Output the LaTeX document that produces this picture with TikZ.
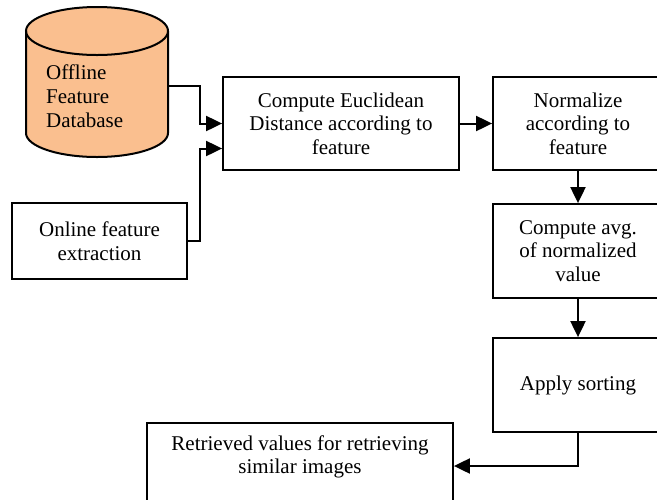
\documentclass[tikz,border=0pt]{standalone}
\usepackage{fontspec}
\setmainfont{Liberation Serif}
\usetikzlibrary{arrows.meta,calc}
\definecolor{dbfill}{HTML}{FABF8F}
\tikzset{
  every node/.style={font=\fontsize{21}{23.5}\selectfont},
  box/.style={draw=black, line width=1.8pt, rectangle, align=center, inner sep=2pt},
  conn/.style={draw=black, line width=2pt},
  arr/.style={draw=black, line width=2pt, -{Triangle[length=16pt,width=15pt]}},
}
\begin{document}
\begin{tikzpicture}[x=1pt,y=-1pt]
\useasboundingbox (0,0) rectangle (657,499);
\clip (0,0) rectangle (657,499);
% cylinder
\fill[dbfill] (26,31) rectangle (168,133);
\fill[dbfill] (97,133) ellipse[x radius=71, y radius=24];
\fill[dbfill] (97,31) ellipse[x radius=71, y radius=24];
\draw[conn] (97,31) ellipse[x radius=71, y radius=24];
\draw[conn] (26,31) -- (26,133) arc[start angle=180, end angle=0, x radius=71, y radius=24] -- (168,31);
\node[anchor=west, align=left, inner sep=0pt, font=\fontsize{21}{24}\selectfont] (db) at (46,96) {Offline\\Feature\\Database};
\coordinate (dbR) at (168,86);
% boxes
\node[box, minimum width=236, minimum height=93] (comp) at (341,123.5) {Compute Euclidean\\Distance according to\\feature};
\node[box, minimum width=175, minimum height=76] (onl) at (99.5,241) {Online feature\\extraction};
\node[box, minimum width=170, minimum height=93] (norm) at (578,123.5) {Normalize\\according to\\feature};
\node[box, minimum width=170, minimum height=94] (avg) at (578,251) {Compute avg.\\of normalized\\value};
\node[box, minimum width=170, minimum height=94] (sort) at (578,385) {Apply sorting};
\node[box, minimum width=306, minimum height=96] (retr) at (300,471) {Retrieved values for retrieving\\similar images\\[2pt]\strut};
% connectors
\draw[arr] (dbR) -| ($(comp.west)+(-22,0)$) -- (comp.west);
\draw[arr] (onl.east) -| ($(comp.west)+(-22,25)$) -- ([yshift=-25pt]comp.west);
\draw[arr] (comp.east) -- (norm.west);
\draw[arr] (norm.south) -- (avg.north);
\draw[arr] (avg.south) -- (sort.north);
\draw[arr] (sort.south) |- ([yshift=5pt]retr.east);
\end{tikzpicture}
\end{document}
